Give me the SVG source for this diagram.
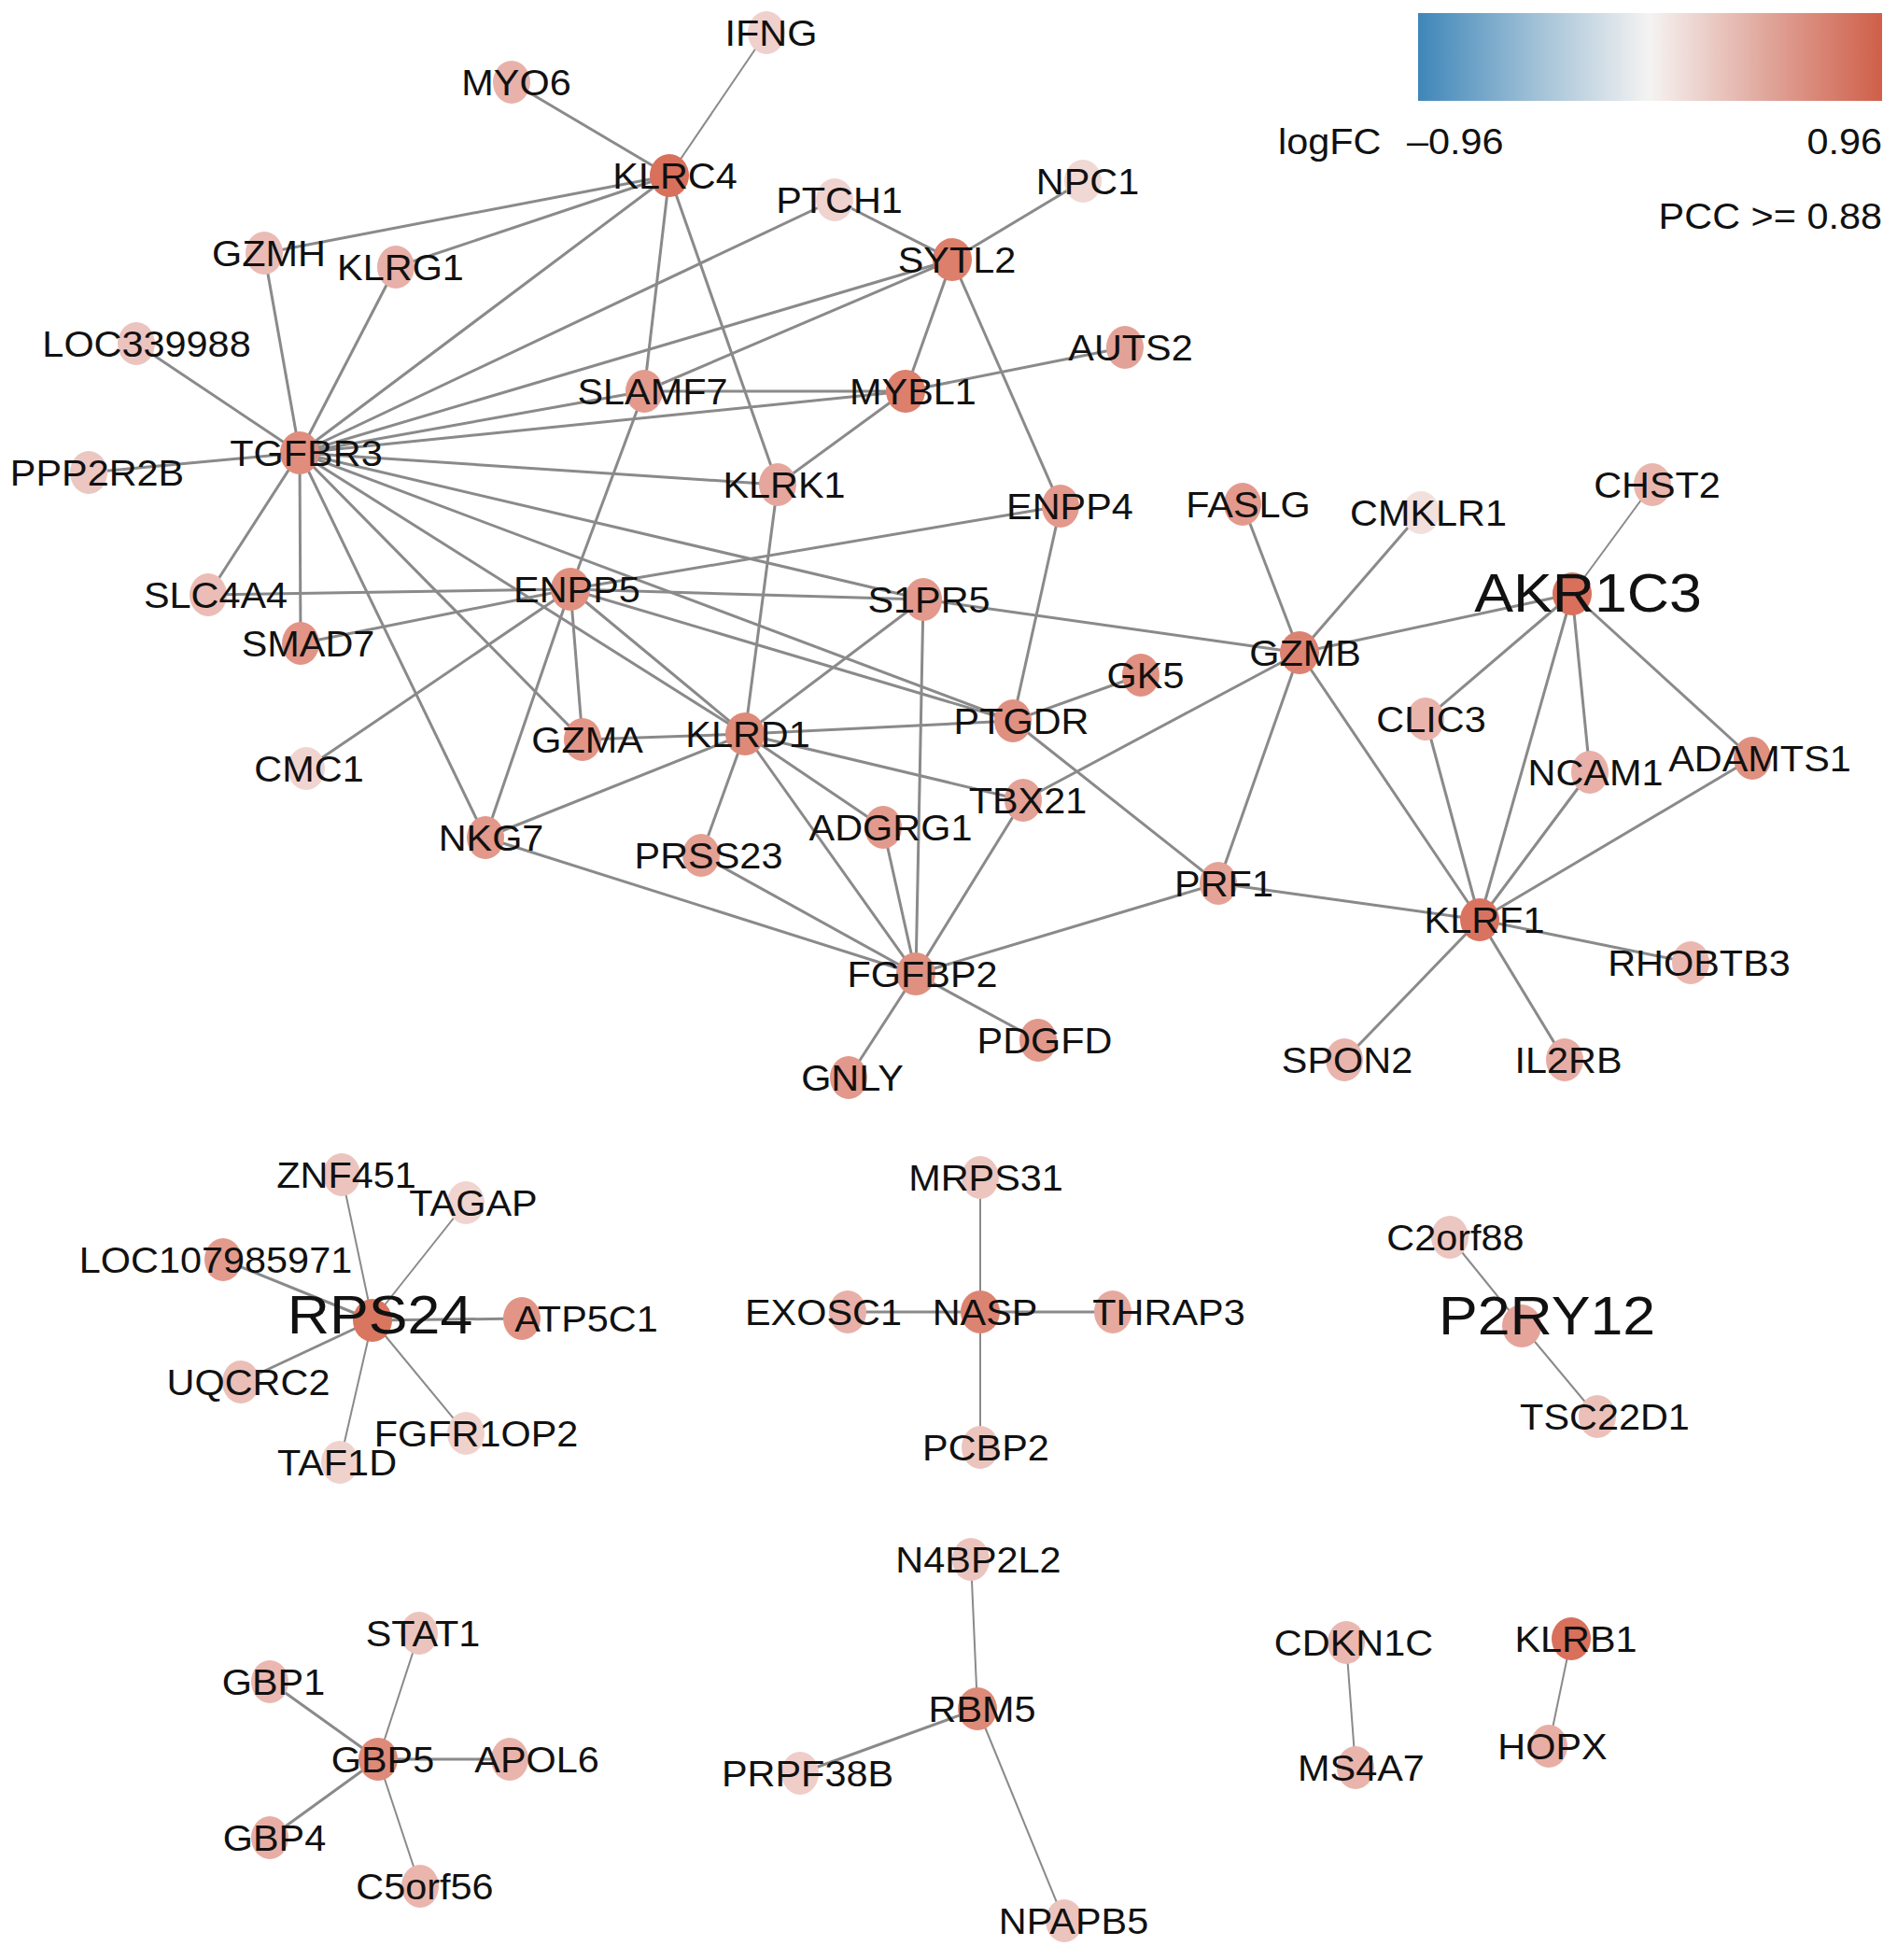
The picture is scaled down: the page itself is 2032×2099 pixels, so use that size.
<svg xmlns="http://www.w3.org/2000/svg" width="2032" height="2099" viewBox="0 0 2032 2099">
<style>
.e{stroke:#8a8a8a;stroke-width:3;fill:none}
.t{stroke-width:2}
.lb{font-family:"Liberation Sans",Arial,sans-serif;font-size:38px;text-anchor:middle;fill:#111}
.big{font-size:58px}
.lg{font-family:"Liberation Sans",Arial,sans-serif;font-size:38px;fill:#111}
</style>
<defs>
<linearGradient id="cb" x1="0" y1="0" x2="1" y2="0">
<stop offset="0" stop-color="#3f86ba"/>
<stop offset="0.25" stop-color="#9fc0d6"/>
<stop offset="0.5" stop-color="#f5f3f2"/>
<stop offset="0.75" stop-color="#e0a69b"/>
<stop offset="1" stop-color="#cf5f49"/>
</linearGradient>
</defs>
<rect width="2032" height="2099" fill="#fff"/>
<g id="legend">
<rect x="1519" y="14" width="497" height="94" fill="url(#cb)"/>
<text class="lg" transform="translate(1369 165) scale(1.09 1)">logFC</text>
<text class="lg" transform="translate(1507 165) scale(1.09 1)">–0.96</text>
<text class="lg" text-anchor="end" transform="translate(2016 165) scale(1.09 1)">0.96</text>
<text class="lg" text-anchor="end" transform="translate(2016 245) scale(1.09 1)">PCC &gt;= 0.88</text>
</g>
<g id="edges">
<line class="e t" x1="717" y1="188" x2="821" y2="35"/>
<line class="e" x1="717" y1="188" x2="548" y2="88"/>
<line class="e" x1="717" y1="188" x2="283" y2="271"/>
<line class="e" x1="717" y1="188" x2="424" y2="286"/>
<line class="e" x1="717" y1="188" x2="321" y2="485"/>
<line class="e" x1="717" y1="188" x2="690" y2="419"/>
<line class="e" x1="717" y1="188" x2="833" y2="519"/>
<line class="e" x1="1020" y1="278" x2="894" y2="214"/>
<line class="e" x1="1020" y1="278" x2="1160" y2="194"/>
<line class="e" x1="1020" y1="278" x2="321" y2="485"/>
<line class="e" x1="1020" y1="278" x2="690" y2="419"/>
<line class="e" x1="1020" y1="278" x2="970" y2="419"/>
<line class="e" x1="1020" y1="278" x2="1136" y2="542"/>
<line class="e" x1="894" y1="214" x2="321" y2="485"/>
<line class="e" x1="321" y1="485" x2="283" y2="271"/>
<line class="e" x1="321" y1="485" x2="424" y2="286"/>
<line class="e" x1="321" y1="485" x2="146" y2="368"/>
<line class="e" x1="321" y1="485" x2="95" y2="506"/>
<line class="e" x1="321" y1="485" x2="690" y2="419"/>
<line class="e" x1="321" y1="485" x2="970" y2="419"/>
<line class="e" x1="321" y1="485" x2="833" y2="519"/>
<line class="e" x1="321" y1="485" x2="989" y2="642"/>
<line class="e" x1="321" y1="485" x2="1085" y2="772"/>
<line class="e" x1="321" y1="485" x2="798" y2="786"/>
<line class="e" x1="321" y1="485" x2="624" y2="792"/>
<line class="e" x1="321" y1="485" x2="520" y2="897"/>
<line class="e" x1="321" y1="485" x2="322" y2="689"/>
<line class="e" x1="321" y1="485" x2="223" y2="637"/>
<line class="e" x1="690" y1="419" x2="970" y2="419"/>
<line class="e" x1="970" y1="419" x2="1205" y2="372"/>
<line class="e" x1="970" y1="419" x2="833" y2="519"/>
<line class="e" x1="833" y1="519" x2="798" y2="786"/>
<line class="e" x1="611" y1="631" x2="690" y2="419"/>
<line class="e" x1="611" y1="631" x2="1136" y2="542"/>
<line class="e" x1="611" y1="631" x2="989" y2="642"/>
<line class="e" x1="611" y1="631" x2="223" y2="637"/>
<line class="e" x1="611" y1="631" x2="322" y2="689"/>
<line class="e" x1="611" y1="631" x2="328" y2="823"/>
<line class="e" x1="611" y1="631" x2="520" y2="897"/>
<line class="e" x1="611" y1="631" x2="624" y2="792"/>
<line class="e" x1="611" y1="631" x2="798" y2="786"/>
<line class="e" x1="611" y1="631" x2="1085" y2="772"/>
<line class="e" x1="798" y1="786" x2="624" y2="792"/>
<line class="e" x1="798" y1="786" x2="1085" y2="772"/>
<line class="e" x1="798" y1="786" x2="989" y2="642"/>
<line class="e" x1="798" y1="786" x2="1096" y2="857"/>
<line class="e" x1="798" y1="786" x2="520" y2="897"/>
<line class="e" x1="798" y1="786" x2="751" y2="916"/>
<line class="e" x1="798" y1="786" x2="946" y2="886"/>
<line class="e" x1="798" y1="786" x2="981" y2="1043"/>
<line class="e" x1="981" y1="1043" x2="520" y2="897"/>
<line class="e" x1="981" y1="1043" x2="751" y2="916"/>
<line class="e" x1="981" y1="1043" x2="946" y2="886"/>
<line class="e" x1="981" y1="1043" x2="989" y2="642"/>
<line class="e" x1="981" y1="1043" x2="1096" y2="857"/>
<line class="e" x1="981" y1="1043" x2="1305" y2="946"/>
<line class="e" x1="981" y1="1043" x2="1112" y2="1114"/>
<line class="e" x1="981" y1="1043" x2="909" y2="1154"/>
<line class="e" x1="1085" y1="772" x2="1136" y2="542"/>
<line class="e" x1="1085" y1="772" x2="1222" y2="723"/>
<line class="e" x1="1085" y1="772" x2="1305" y2="946"/>
<line class="e" x1="1392" y1="699" x2="1331" y2="540"/>
<line class="e" x1="1392" y1="699" x2="1522" y2="549"/>
<line class="e" x1="1392" y1="699" x2="1684" y2="636"/>
<line class="e" x1="1392" y1="699" x2="989" y2="642"/>
<line class="e" x1="1392" y1="699" x2="1096" y2="857"/>
<line class="e" x1="1392" y1="699" x2="1305" y2="946"/>
<line class="e" x1="1392" y1="699" x2="1585" y2="985"/>
<line class="e t" x1="1684" y1="636" x2="1770" y2="519"/>
<line class="e" x1="1684" y1="636" x2="1527" y2="770"/>
<line class="e" x1="1684" y1="636" x2="1585" y2="985"/>
<line class="e" x1="1684" y1="636" x2="1703" y2="827"/>
<line class="e" x1="1684" y1="636" x2="1877" y2="812"/>
<line class="e" x1="1585" y1="985" x2="1527" y2="770"/>
<line class="e" x1="1585" y1="985" x2="1703" y2="827"/>
<line class="e" x1="1585" y1="985" x2="1877" y2="812"/>
<line class="e" x1="1585" y1="985" x2="1305" y2="946"/>
<line class="e" x1="1585" y1="985" x2="1811" y2="1031"/>
<line class="e" x1="1585" y1="985" x2="1440" y2="1135"/>
<line class="e" x1="1585" y1="985" x2="1676" y2="1135"/>
<line class="e t" x1="399" y1="1414" x2="366" y2="1258"/>
<line class="e t" x1="399" y1="1414" x2="499" y2="1288"/>
<line class="e" x1="399" y1="1414" x2="239" y2="1349"/>
<line class="e" x1="399" y1="1414" x2="559" y2="1412"/>
<line class="e" x1="399" y1="1414" x2="258" y2="1480"/>
<line class="e t" x1="399" y1="1414" x2="499" y2="1535"/>
<line class="e t" x1="399" y1="1414" x2="364" y2="1566"/>
<line class="e t" x1="1050" y1="1405" x2="1050" y2="1261"/>
<line class="e" x1="1050" y1="1405" x2="908" y2="1405"/>
<line class="e" x1="1050" y1="1405" x2="1192" y2="1405"/>
<line class="e t" x1="1050" y1="1405" x2="1050" y2="1550"/>
<line class="e t" x1="1630" y1="1420" x2="1553" y2="1325"/>
<line class="e t" x1="1630" y1="1420" x2="1711" y2="1517"/>
<line class="e t" x1="405" y1="1884" x2="449" y2="1749"/>
<line class="e" x1="405" y1="1884" x2="289" y2="1801"/>
<line class="e" x1="405" y1="1884" x2="546" y2="1884"/>
<line class="e" x1="405" y1="1884" x2="289" y2="1968"/>
<line class="e t" x1="405" y1="1884" x2="450" y2="2020"/>
<line class="e t" x1="1047" y1="1830" x2="1040" y2="1670"/>
<line class="e" x1="1047" y1="1830" x2="857" y2="1899"/>
<line class="e t" x1="1047" y1="1830" x2="1140" y2="2057"/>
<line class="e t" x1="1442" y1="1759" x2="1452" y2="1893"/>
<line class="e t" x1="1683" y1="1755" x2="1659" y2="1870"/>
</g>
<g id="n-IFNG"><ellipse cx="821" cy="35" rx="20" ry="23" fill="#efd0cc"/><text class="lb" transform="translate(826 49) scale(1.09 1)">IFNG</text></g>
<g id="n-MYO6"><ellipse cx="548" cy="88" rx="20" ry="23" fill="#e8b2aa"/><text class="lb" transform="translate(553 102) scale(1.09 1)">MYO6</text></g>
<g id="n-KLRC4"><ellipse cx="717" cy="188" rx="21" ry="23" fill="#d8705c"/><text class="lb" transform="translate(723 202) scale(1.09 1)">KLRC4</text></g>
<g id="n-PTCH1"><ellipse cx="894" cy="214" rx="20" ry="23" fill="#efd3cf"/><text class="lb" transform="translate(899 228) scale(1.09 1)">PTCH1</text></g>
<g id="n-NPC1"><ellipse cx="1160" cy="194" rx="20" ry="23" fill="#f0d8d4"/><text class="lb" transform="translate(1165 208) scale(1.09 1)">NPC1</text></g>
<g id="n-SYTL2"><ellipse cx="1020" cy="278" rx="21" ry="23" fill="#dc7f6b"/><text class="lb" transform="translate(1025 292) scale(1.09 1)">SYTL2</text></g>
<g id="n-GZMH"><ellipse cx="283" cy="271" rx="20" ry="23" fill="#eabcb5"/><text class="lb" transform="translate(288 285) scale(1.09 1)">GZMH</text></g>
<g id="n-KLRG1"><ellipse cx="424" cy="286" rx="20" ry="23" fill="#e7b0a8"/><text class="lb" transform="translate(429 300) scale(1.09 1)">KLRG1</text></g>
<g id="n-LOC339988"><ellipse cx="146" cy="368" rx="20" ry="23" fill="#ecc4bf"/><text class="lb" transform="translate(157 382) scale(1.09 1)">LOC339988</text></g>
<g id="n-AUTS2"><ellipse cx="1205" cy="372" rx="20" ry="23" fill="#e3a297"/><text class="lb" transform="translate(1211 386) scale(1.09 1)">AUTS2</text></g>
<g id="n-SLAMF7"><ellipse cx="690" cy="419" rx="20" ry="23" fill="#e39a8d"/><text class="lb" transform="translate(699 433) scale(1.09 1)">SLAMF7</text></g>
<g id="n-MYBL1"><ellipse cx="970" cy="419" rx="21" ry="23" fill="#dc7f6c"/><text class="lb" transform="translate(978 433) scale(1.09 1)">MYBL1</text></g>
<g id="n-TGFBR3"><ellipse cx="321" cy="485" rx="21" ry="23" fill="#e08d7d"/><text class="lb" transform="translate(328 499) scale(1.09 1)">TGFBR3</text></g>
<g id="n-PPP2R2B"><ellipse cx="95" cy="506" rx="20" ry="23" fill="#ecc6c1"/><text class="lb" transform="translate(104 520) scale(1.09 1)">PPP2R2B</text></g>
<g id="n-KLRK1"><ellipse cx="833" cy="519" rx="20" ry="23" fill="#e5a79d"/><text class="lb" transform="translate(840 533) scale(1.09 1)">KLRK1</text></g>
<g id="n-ENPP4"><ellipse cx="1136" cy="542" rx="20" ry="23" fill="#e3998c"/><text class="lb" transform="translate(1146 556) scale(1.09 1)">ENPP4</text></g>
<g id="n-FASLG"><ellipse cx="1331" cy="540" rx="20" ry="23" fill="#e39a8d"/><text class="lb" transform="translate(1337 554) scale(1.09 1)">FASLG</text></g>
<g id="n-CMKLR1"><ellipse cx="1522" cy="549" rx="20" ry="23" fill="#f2e0dd"/><text class="lb" transform="translate(1530 563) scale(1.09 1)">CMKLR1</text></g>
<g id="n-CHST2"><ellipse cx="1770" cy="519" rx="20" ry="23" fill="#e9b6ae"/><text class="lb" transform="translate(1775 533) scale(1.09 1)">CHST2</text></g>
<g id="n-AKR1C3"><ellipse cx="1684" cy="636" rx="21" ry="23" fill="#d8705c"/><text class="lb big" transform="translate(1701 655) scale(1.08 1)">AKR1C3</text></g>
<g id="n-SLC4A4"><ellipse cx="223" cy="637" rx="20" ry="23" fill="#ebbdb6"/><text class="lb" transform="translate(231 651) scale(1.09 1)">SLC4A4</text></g>
<g id="n-ENPP5"><ellipse cx="611" cy="631" rx="21" ry="23" fill="#e0907f"/><text class="lb" transform="translate(618 645) scale(1.09 1)">ENPP5</text></g>
<g id="n-S1PR5"><ellipse cx="989" cy="642" rx="20" ry="23" fill="#e3998c"/><text class="lb" transform="translate(995 656) scale(1.09 1)">S1PR5</text></g>
<g id="n-SMAD7"><ellipse cx="322" cy="689" rx="20" ry="23" fill="#e29486"/><text class="lb" transform="translate(330 703) scale(1.09 1)">SMAD7</text></g>
<g id="n-GZMB"><ellipse cx="1392" cy="699" rx="21" ry="23" fill="#dc8270"/><text class="lb" transform="translate(1398 713) scale(1.09 1)">GZMB</text></g>
<g id="n-GK5"><ellipse cx="1222" cy="723" rx="20" ry="23" fill="#e09080"/><text class="lb" transform="translate(1227 737) scale(1.09 1)">GK5</text></g>
<g id="n-PTGDR"><ellipse cx="1085" cy="772" rx="20" ry="23" fill="#e09080"/><text class="lb" transform="translate(1094 786) scale(1.09 1)">PTGDR</text></g>
<g id="n-CLIC3"><ellipse cx="1527" cy="770" rx="20" ry="23" fill="#e9b4ac"/><text class="lb" transform="translate(1533 784) scale(1.09 1)">CLIC3</text></g>
<g id="n-GZMA"><ellipse cx="624" cy="792" rx="20" ry="23" fill="#e29586"/><text class="lb" transform="translate(629 806) scale(1.09 1)">GZMA</text></g>
<g id="n-KLRD1"><ellipse cx="798" cy="786" rx="21" ry="23" fill="#de8a78"/><text class="lb" transform="translate(801 800) scale(1.09 1)">KLRD1</text></g>
<g id="n-CMC1"><ellipse cx="328" cy="823" rx="20" ry="23" fill="#f0d4d0"/><text class="lb" transform="translate(331 837) scale(1.09 1)">CMC1</text></g>
<g id="n-ADAMTS1"><ellipse cx="1877" cy="812" rx="20" ry="23" fill="#e0907f"/><text class="lb" transform="translate(1885 826) scale(1.09 1)">ADAMTS1</text></g>
<g id="n-NCAM1"><ellipse cx="1703" cy="827" rx="20" ry="23" fill="#e8b0a8"/><text class="lb" transform="translate(1709 841) scale(1.09 1)">NCAM1</text></g>
<g id="n-TBX21"><ellipse cx="1096" cy="857" rx="20" ry="23" fill="#e4a195"/><text class="lb" transform="translate(1101 871) scale(1.09 1)">TBX21</text></g>
<g id="n-NKG7"><ellipse cx="520" cy="897" rx="20" ry="23" fill="#e2988a"/><text class="lb" transform="translate(526 911) scale(1.09 1)">NKG7</text></g>
<g id="n-ADGRG1"><ellipse cx="946" cy="886" rx="20" ry="23" fill="#e29a8c"/><text class="lb" transform="translate(954 900) scale(1.09 1)">ADGRG1</text></g>
<g id="n-PRSS23"><ellipse cx="751" cy="916" rx="20" ry="23" fill="#e3a093"/><text class="lb" transform="translate(759 930) scale(1.09 1)">PRSS23</text></g>
<g id="n-PRF1"><ellipse cx="1305" cy="946" rx="20" ry="23" fill="#e4a396"/><text class="lb" transform="translate(1311 960) scale(1.09 1)">PRF1</text></g>
<g id="n-KLRF1"><ellipse cx="1585" cy="985" rx="21" ry="23" fill="#d9735f"/><text class="lb" transform="translate(1590 999) scale(1.09 1)">KLRF1</text></g>
<g id="n-RHOBTB3"><ellipse cx="1811" cy="1031" rx="20" ry="23" fill="#eab8b1"/><text class="lb" transform="translate(1820 1045) scale(1.09 1)">RHOBTB3</text></g>
<g id="n-FGFBP2"><ellipse cx="981" cy="1043" rx="21" ry="23" fill="#e0907f"/><text class="lb" transform="translate(988 1057) scale(1.09 1)">FGFBP2</text></g>
<g id="n-PDGFD"><ellipse cx="1112" cy="1114" rx="20" ry="23" fill="#e2988a"/><text class="lb" transform="translate(1119 1128) scale(1.09 1)">PDGFD</text></g>
<g id="n-GNLY"><ellipse cx="909" cy="1154" rx="20" ry="23" fill="#e2988a"/><text class="lb" transform="translate(913 1168) scale(1.09 1)">GNLY</text></g>
<g id="n-SPON2"><ellipse cx="1440" cy="1135" rx="20" ry="23" fill="#e9b4ac"/><text class="lb" transform="translate(1443 1149) scale(1.09 1)">SPON2</text></g>
<g id="n-IL2RB"><ellipse cx="1676" cy="1135" rx="20" ry="23" fill="#e7aca3"/><text class="lb" transform="translate(1680 1149) scale(1.09 1)">IL2RB</text></g>
<g id="n-ZNF451"><ellipse cx="366" cy="1258" rx="20" ry="23" fill="#ecc4be"/><text class="lb" transform="translate(371 1272) scale(1.09 1)">ZNF451</text></g>
<g id="n-TAGAP"><ellipse cx="499" cy="1288" rx="20" ry="23" fill="#f0d4d0"/><text class="lb" transform="translate(507 1302) scale(1.09 1)">TAGAP</text></g>
<g id="n-LOC107985971"><ellipse cx="239" cy="1349" rx="20" ry="23" fill="#e29a8c"/><text class="lb" transform="translate(231 1363) scale(1.09 1)">LOC107985971</text></g>
<g id="n-RPS24"><ellipse cx="399" cy="1414" rx="21" ry="23" fill="#d9765f"/><text class="lb big" transform="translate(407 1428) scale(1.08 1)">RPS24</text></g>
<g id="n-ATP5C1"><ellipse cx="559" cy="1412" rx="20" ry="23" fill="#e29586"/><text class="lb" transform="translate(628 1426) scale(1.09 1)">ATP5C1</text></g>
<g id="n-UQCRC2"><ellipse cx="258" cy="1480" rx="20" ry="23" fill="#ebbfb8"/><text class="lb" transform="translate(266 1494) scale(1.09 1)">UQCRC2</text></g>
<g id="n-FGFR1OP2"><ellipse cx="499" cy="1535" rx="20" ry="23" fill="#f0d2cd"/><text class="lb" transform="translate(510 1549) scale(1.09 1)">FGFR1OP2</text></g>
<g id="n-TAF1D"><ellipse cx="364" cy="1566" rx="20" ry="23" fill="#f0d2cd"/><text class="lb" transform="translate(361 1580) scale(1.09 1)">TAF1D</text></g>
<g id="n-MRPS31"><ellipse cx="1050" cy="1261" rx="20" ry="23" fill="#ecc5bf"/><text class="lb" transform="translate(1056 1275) scale(1.09 1)">MRPS31</text></g>
<g id="n-EXOSC1"><ellipse cx="908" cy="1405" rx="20" ry="23" fill="#e8b0a8"/><text class="lb" transform="translate(882 1419) scale(1.09 1)">EXOSC1</text></g>
<g id="n-NASP"><ellipse cx="1050" cy="1405" rx="21" ry="23" fill="#dc8472"/><text class="lb" transform="translate(1055 1419) scale(1.09 1)">NASP</text></g>
<g id="n-THRAP3"><ellipse cx="1192" cy="1405" rx="20" ry="23" fill="#e6a99f"/><text class="lb" transform="translate(1252 1419) scale(1.09 1)">THRAP3</text></g>
<g id="n-PCBP2"><ellipse cx="1050" cy="1550" rx="20" ry="23" fill="#ecc4be"/><text class="lb" transform="translate(1056 1564) scale(1.09 1)">PCBP2</text></g>
<g id="n-C2orf88"><ellipse cx="1553" cy="1325" rx="20" ry="23" fill="#ecc6c0"/><text class="lb" transform="translate(1559 1339) scale(1.09 1)">C2orf88</text></g>
<g id="n-P2RY12"><ellipse cx="1630" cy="1420" rx="21" ry="23" fill="#e5a49a"/><text class="lb big" transform="translate(1657 1429) scale(1.08 1)">P2RY12</text></g>
<g id="n-TSC22D1"><ellipse cx="1711" cy="1517" rx="20" ry="23" fill="#ebc0b9"/><text class="lb" transform="translate(1719 1531) scale(1.09 1)">TSC22D1</text></g>
<g id="n-STAT1"><ellipse cx="449" cy="1749" rx="20" ry="23" fill="#ecc4be"/><text class="lb" transform="translate(453 1763) scale(1.09 1)">STAT1</text></g>
<g id="n-GBP1"><ellipse cx="289" cy="1801" rx="20" ry="23" fill="#eab8b1"/><text class="lb" transform="translate(293 1815) scale(1.09 1)">GBP1</text></g>
<g id="n-GBP5"><ellipse cx="405" cy="1884" rx="21" ry="23" fill="#de8a78"/><text class="lb" transform="translate(410 1898) scale(1.09 1)">GBP5</text></g>
<g id="n-APOL6"><ellipse cx="546" cy="1884" rx="20" ry="23" fill="#e9b4ac"/><text class="lb" transform="translate(575 1898) scale(1.09 1)">APOL6</text></g>
<g id="n-GBP4"><ellipse cx="289" cy="1968" rx="20" ry="23" fill="#e8ada4"/><text class="lb" transform="translate(294 1982) scale(1.09 1)">GBP4</text></g>
<g id="n-C5orf56"><ellipse cx="450" cy="2020" rx="20" ry="23" fill="#eab5ad"/><text class="lb" transform="translate(455 2034) scale(1.09 1)">C5orf56</text></g>
<g id="n-N4BP2L2"><ellipse cx="1040" cy="1670" rx="20" ry="23" fill="#ecc4be"/><text class="lb" transform="translate(1048 1684) scale(1.09 1)">N4BP2L2</text></g>
<g id="n-RBM5"><ellipse cx="1047" cy="1830" rx="21" ry="23" fill="#de8a78"/><text class="lb" transform="translate(1052 1844) scale(1.09 1)">RBM5</text></g>
<g id="n-PRPF38B"><ellipse cx="857" cy="1899" rx="20" ry="23" fill="#efcdc8"/><text class="lb" transform="translate(865 1913) scale(1.09 1)">PRPF38B</text></g>
<g id="n-NPAPB5"><ellipse cx="1140" cy="2057" rx="20" ry="23" fill="#ecc4be"/><text class="lb" transform="translate(1150 2071) scale(1.09 1)">NPAPB5</text></g>
<g id="n-CDKN1C"><ellipse cx="1442" cy="1759" rx="20" ry="23" fill="#eab8b1"/><text class="lb" transform="translate(1450 1773) scale(1.09 1)">CDKN1C</text></g>
<g id="n-MS4A7"><ellipse cx="1452" cy="1893" rx="20" ry="23" fill="#e9b4ac"/><text class="lb" transform="translate(1458 1907) scale(1.09 1)">MS4A7</text></g>
<g id="n-KLRB1"><ellipse cx="1683" cy="1755" rx="21" ry="23" fill="#d8705c"/><text class="lb" transform="translate(1688 1769) scale(1.09 1)">KLRB1</text></g>
<g id="n-HOPX"><ellipse cx="1659" cy="1870" rx="20" ry="23" fill="#e8ada4"/><text class="lb" transform="translate(1663 1884) scale(1.09 1)">HOPX</text></g>
</svg>
